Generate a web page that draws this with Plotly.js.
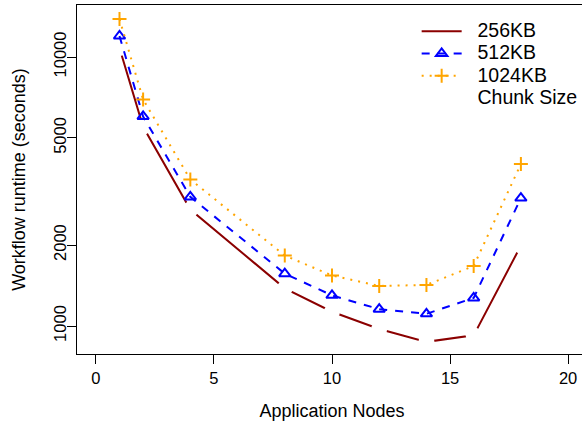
<!DOCTYPE html>
<html>
<head>
<meta charset="utf-8">
<script src="https://cdn.plot.ly/plotly-3.0.1.min.js"></script>
<style>
html, body { margin: 0; padding: 0; overflow: hidden; background: #fff; }
#chart { width: 590px; height: 425px; }
</style>
</head>
<body>
<div id="chart"></div>
<script>
// Data
const nodes = [1, 2, 4, 8, 10, 12, 14, 16, 18];
const runtime256 = [10800, 5500, 2710, 1380, 1130, 975, 873, 923, 1990];
const runtime512 = [11970, 6010, 3020, 1565, 1300, 1155, 1110, 1271, 2990];
const runtime1024 = [13840, 6950, 3505, 1828, 1541, 1409, 1421, 1671, 4000];
const seriesNames = ['256KB', '512KB', '1024KB'];
const legendNote = 'Chunk Size';
const xTicks = [0, 5, 10, 15, 20];
const yTicks = [1000, 2000, 5000, 10000];
const yTickText = ['1000', '2000', '5000', '10000'];

const FONT = 'Liberation Sans, Arial, Helvetica, sans-serif';
const lg = (s) => '<span style="font-size:19.5px">&nbsp;&nbsp;' + s + '</span>';

const traces = [
  { x: nodes, y: runtime256, name: lg(seriesNames[0]), mode: 'lines',
    line: { color: '#8B0000', width: 2 }, hoverinfo: 'skip' },
  // gaps at the points (R type="c")
  { x: nodes, y: runtime256, mode: 'markers', showlegend: false,
    marker: { color: '#ffffff', size: 16, line: { width: 0 } }, hoverinfo: 'skip' },
  { x: nodes, y: runtime512, name: lg(seriesNames[1]), mode: 'lines+markers',
    line: { color: '#0000FF', width: 2, dash: '8px,8px' },
    marker: { symbol: 'triangle-up-open', size: 10, color: '#0000FF', line: { width: 2, color: '#0000FF' } } },
  { x: nodes, y: runtime1024, name: lg(seriesNames[2]), mode: 'lines+markers',
    line: { color: '#FFA500', width: 2, dash: '2px,6px' },
    marker: { symbol: 'cross-thin-open', size: 10, color: '#FFA500', line: { width: 2, color: '#FFA500' } } },
  { x: [null], y: [null], name: lg(legendNote), mode: 'lines',
    line: { color: 'rgba(0,0,0,0)', width: 0 }, hoverinfo: 'skip' }
];

const layout = {
  width: 590, height: 425,
  margin: { l: 77, r: 3, t: 5, b: 71 },
  paper_bgcolor: '#fff', plot_bgcolor: '#fff',
  font: { family: FONT, color: '#000', size: 16.5 },
  showlegend: true,
  legend: {
    x: 0.666, xanchor: 'left', y: 0.971, yanchor: 'top',
    bgcolor: 'rgba(0,0,0,0)', borderwidth: 0,
    font: { family: FONT, size: 14.8, color: '#000' },
    itemwidth: 40, traceorder: 'normal'
  },
  xaxis: {
    range: [-0.8, 20.8], tickmode: 'array', tickvals: xTicks,
    ticks: 'outside', ticklen: 9, tickwidth: 1, tickcolor: '#000',
    showline: true, linecolor: '#000', linewidth: 1, mirror: true,
    showgrid: false, zeroline: false,
    tickfont: { family: FONT, size: 16.5 },
    title: { text: 'Application Nodes', font: { family: FONT, size: 18 }, standoff: 18 }
  },
  yaxis: {
    type: 'log', range: [2.8959, 4.1933], tickmode: 'array',
    tickvals: yTicks, ticktext: yTickText, tickangle: -90,
    ticks: 'outside', ticklen: 9, tickwidth: 1, tickcolor: '#000',
    showline: true, linecolor: '#000', linewidth: 1, mirror: true,
    showgrid: false, zeroline: false, ticklabelstandoff: -6,
    tickfont: { family: FONT, size: 16.5 },
    title: { text: 'Workflow runtime (seconds)', font: { family: FONT, size: 18 }, standoff: 21 }
  }
};

Plotly.newPlot('chart', traces, layout, { displayModeBar: false, staticPlot: true });
</script>
</body>
</html>
